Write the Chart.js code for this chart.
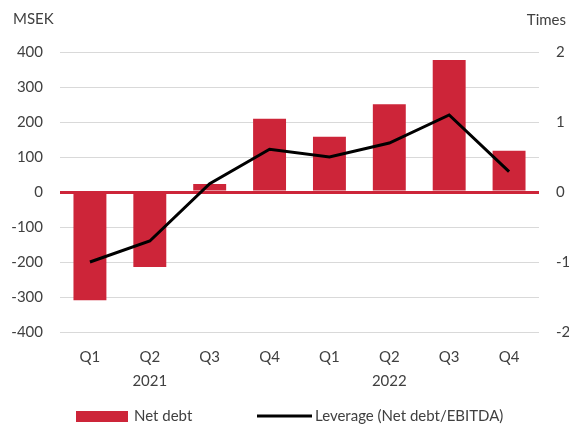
<!DOCTYPE html>
<html>
<head>
<meta charset="utf-8">
<script src="https://cdn.jsdelivr.net/npm/chart.js@4/dist/chart.umd.min.js"></script>
<style>
html,body{margin:0;padding:0;background:#fff;}
#wrap{width:569px;height:424px;}
</style>
</head>
<body>
<div id="wrap"><canvas id="c" width="569" height="424"></canvas></div>
<script>
const quarters = ['Q1','Q2','Q3','Q4','Q1','Q2','Q3','Q4'];
const years = ['', '2021', '', '', '', '2022', '', ''];
const netDebt = [-309, -214, 23, 209, 158, 251, 377, 118];
const leverage = [-1.0, -0.7, 0.12, 0.61, 0.5, 0.7, 1.1, 0.29];
const leftTitle = 'MSEK';
const rightTitle = 'Times';

const RED = '#CD2539';
const TXT = '#404040';
const FONT = 'Lato';

const labels = quarters.map((q, i) => [q, years[i]]);

const extras = {
  id: 'extras',
  afterDraw(chart) {
    const ctx = chart.ctx;
    ctx.save();
    ctx.fillStyle = TXT;
    ctx.font = '15px ' + FONT;
    ctx.textBaseline = 'alphabetic';
    ctx.textAlign = 'left';
    ctx.fillText(leftTitle, 13, 24);
    ctx.textAlign = 'right';
    ctx.fillText(rightTitle, 566, 25);

    // legend
    const ds = chart.data.datasets;
    const bar = ds.find(d => d.type === 'bar');
    const line = ds.find(d => d.type === 'line');
    ctx.fillStyle = bar.backgroundColor;
    ctx.fillRect(76, 411, 52, 11);
    ctx.fillStyle = TXT;
    ctx.textAlign = 'left';
    ctx.fillText(bar.label, 134, 421);
    ctx.strokeStyle = line.borderColor;
    ctx.lineWidth = line.borderWidth;
    ctx.beginPath();
    ctx.moveTo(257, 416);
    ctx.lineTo(312, 416);
    ctx.stroke();
    ctx.fillText(line.label, 315, 421);
    ctx.restore();
  }
};

new Chart(document.getElementById('c'), {
  type: 'bar',
  data: {
    labels: labels,
    datasets: [
      {
        type: 'line',
        label: 'Leverage (Net debt/EBITDA)',
        data: leverage,
        yAxisID: 'y1',
        borderColor: '#000',
        backgroundColor: '#000',
        borderWidth: 3,
        pointRadius: 0,
        tension: 0,
        order: 0
      },
      {
        type: 'bar',
        label: 'Net debt',
        data: netDebt,
        yAxisID: 'y',
        backgroundColor: RED,
        borderWidth: 0,
        categoryPercentage: 1,
        barPercentage: 0.55,
        order: 1
      }
    ]
  },
  options: {
    responsive: false,
    animation: false,
    layout: { padding: { top: 52, left: 0, right: 0, bottom: 32 } },
    plugins: {
      legend: { display: false },
      tooltip: { enabled: false }
    },
    scales: {
      x: {
        grid: { display: false },
        border: { display: false },
        afterFit: (s) => { s.height = 60; },
        ticks: {
          color: TXT,
          font: { family: FONT, size: 15, lineHeight: 1.55 },
          maxRotation: 0,
          autoSkip: false,
          padding: 6
        }
      },
      y: {
        position: 'left',
        min: -400,
        max: 400,
        border: { display: false },
        afterFit: (s) => { s.width = 60; },
        grid: {
          color: (c) => c.tick && c.tick.value === 0 ? RED : '#D9D9D9',
          lineWidth: (c) => c.tick && c.tick.value === 0 ? 3 : 1,
          drawTicks: false
        },
        ticks: {
          stepSize: 100,
          color: TXT,
          font: { family: FONT, size: 15 },
          padding: 17
        }
      },
      y1: {
        position: 'right',
        min: -2,
        max: 2,
        border: { display: false },
        afterFit: (s) => { s.width = 30; },
        grid: { display: false, drawTicks: false },
        ticks: {
          stepSize: 1,
          color: TXT,
          font: { family: FONT, size: 15 },
          padding: 17
        }
      }
    }
  },
  plugins: [extras]
});
</script>
</body>
</html>
